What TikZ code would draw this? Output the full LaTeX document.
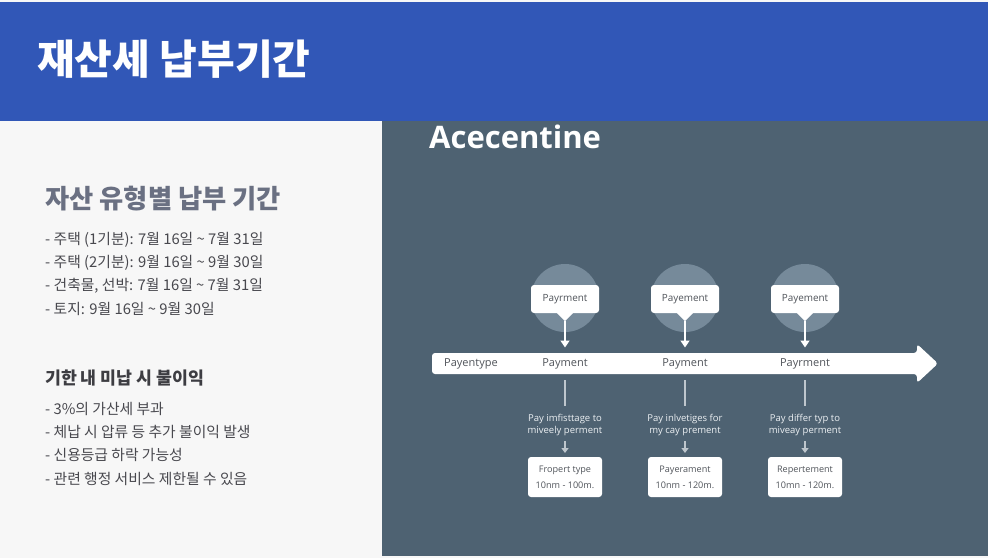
\documentclass[tikz,border=0pt]{standalone}
\usepackage{fontspec}
\setmainfont{Open Sans}
\newfontfamily\kr{Noto Sans CJK KR}
\usetikzlibrary{arrows.meta}
\definecolor{banner}{RGB}{49,87,183}
\definecolor{panel}{RGB}{78,98,114}
\definecolor{leftbg}{RGB}{247,247,247}
\definecolor{circ}{RGB}{118,138,154}
\definecolor{subh}{RGB}{106,112,130}
\definecolor{bodytxt}{RGB}{72,72,78}
\definecolor{bartxt}{RGB}{80,84,90}
\definecolor{stem}{RGB}{190,198,205}
\definecolor{desc}{RGB}{236,240,243}
\tikzset{
  bodyline/.style={anchor=west,inner sep=0pt,text=bodytxt,font=\kr\fontsize{14.8}{17}\selectfont},
  barlabel/.style={inner sep=0pt,text=bartxt,font=\fontsize{11}{12}\selectfont},
  callout/.style={fill=white,rounded corners=3pt,minimum width=68pt,minimum height=28pt,inner sep=0pt,text=bartxt,font=\fontsize{9.9}{11}\selectfont},
  desctext/.style={inner sep=0pt,align=center,text=desc,font=\fontsize{9.5}{12}\selectfont},
  infobox/.style={fill=white,rounded corners=3pt,minimum width=74pt,minimum height=40pt,inner sep=0pt,align=center,text=bartxt,font=\fontsize{9.1}{16}\selectfont},
  downarrow/.style={draw=white,line width=1.4pt,-{Triangle[width=9pt,length=7pt]}},
  smallarrow/.style={draw=stem,line width=1.3pt,-{Triangle[width=7pt,length=5pt]}},
  stemline/.style={draw=stem,line width=1.5pt}
}
\begin{document}
\begin{tikzpicture}[x=1pt,y=-1pt]
\useasboundingbox (0,0) rectangle (988,558);
\fill[leftbg] (0,0) rectangle (988,558);
\fill[banner] (0,2) rectangle (988,121);
\fill[panel] (382,121) rectangle (988,556);

% title
\node[anchor=west,inner sep=0pt,text=white,font=\kr\bfseries\fontsize{41}{46}\selectfont] (title) at (37,59) {재산세 납부기간};

% left column
\node[anchor=west,inner sep=0pt,text=subh,font=\kr\bfseries\fontsize{26.3}{30}\selectfont] (h1) at (45,199) {자산 유형별 납부 기간};
\node[bodyline] (l1) at (45,240) {- 주택 (1기분): 7월 16일 \textasciitilde\ 7월 31일};
\node[bodyline] (l2) at (45,263) {- 주택 (2기분): 9월 16일 \textasciitilde\ 9월 30일};
\node[bodyline] (l3) at (45,286) {- 건축물, 선박: 7월 16일 \textasciitilde\ 7월 31일};
\node[bodyline] (l4) at (45,309) {- 토지: 9월 16일 \textasciitilde\ 9월 30일};

\node[anchor=west,inner sep=0pt,text=bodytxt!85!black,font=\kr\bfseries\fontsize{17.3}{20}\selectfont] (h2) at (45,378) {기한 내 미납 시 불이익};
\node[bodyline] (m1) at (45,409) {- 3\%의 가산세 부과};
\node[bodyline] (m2) at (45,432) {- 체납 시 압류 등 추가 불이익 발생};
\node[bodyline] (m3) at (45,455) {- 신용등급 하락 가능성};
\node[bodyline] (m4) at (45,479) {- 관련 행정 서비스 제한될 수 있음};

% right panel
\node[anchor=west,inner sep=0pt,text=white,font=\bfseries\fontsize{31}{34}\selectfont] (acc) at (429,137) {Acecentine};

% timeline bar
\fill[white,rounded corners=3pt] (432,353) -- (917,353) -- (917,344) -- (938,363.5) -- (917,383) -- (917,374) -- (432,374) -- cycle;
\node[barlabel,anchor=west] (pt) at (444,363.5) {Payentype};

\foreach \i/\x/\top/\bar/\da/\db/\ba/\bb in {
  1/565/Payrment/Payment/Pay imfisttage to/miveely perment/Fropert type/10nm - 100m.,
  2/685/Payement/Payment/Pay inlvetiges for/my cay prement/Payerament/10nm - 120m.,
  3/805/Payement/Payrment/Pay differ typ to/miveay perment/Repertement/10mn - 120m.}{
  \fill[circ] (\x,298) circle (34);
  \node[callout] (c\i) at (\x,299) {\top};
  \fill[white] ([xshift=-8pt]c\i.south) -- ([xshift=8pt]c\i.south) -- ([yshift=-8pt]c\i.south) -- cycle;
  \coordinate (tip\i) at (\x,321);
  \coordinate (end\i) at (\x,347.5);
  \draw[downarrow] (tip\i) -- (end\i);
  \node[barlabel] (p\i) at (\x,363.5) {\bar};
  \coordinate (s\i) at (\x,380);
  \coordinate (t\i) at (\x,406);
  \draw[stemline] (s\i) -- (t\i);
  \node[desctext] (d\i) at (\x,425) {\da\\\db};
  \coordinate (u\i) at (\x,441);
  \coordinate (v\i) at (\x,453);
  \draw[smallarrow] (u\i) -- (v\i);
  \node[infobox] (b\i) at (\x,477) {\ba\\\bb};
}
\end{tikzpicture}
\end{document}
